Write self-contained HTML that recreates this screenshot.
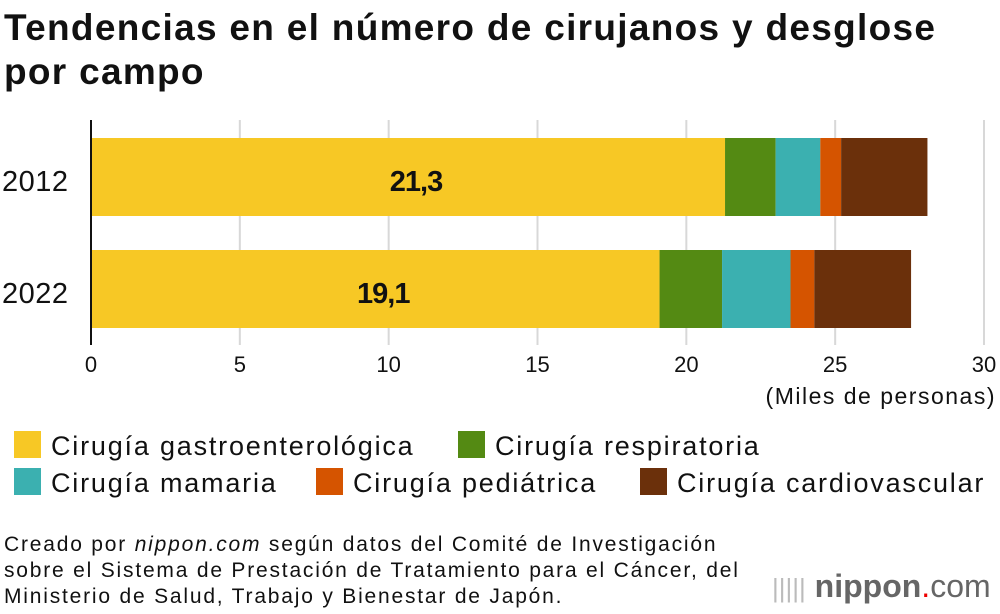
<!DOCTYPE html>
<html><head><meta charset="utf-8"><style>
body{margin:0;width:1000px;height:614px;background:#fff;font-family:"Liberation Sans",sans-serif;overflow:hidden;position:relative}
.t{position:absolute;color:#111;white-space:nowrap}
</style></head><body>
<div class="t" style="left:4px;top:6px;font-size:37px;font-weight:bold;line-height:44px;letter-spacing:1.3px">Tendencias en el número de cirujanos y desglose<br>por campo</div>
<svg id="c" width="1000" height="614" style="position:absolute;left:0;top:0"></svg>
<div class="t" style="left:4px;top:532px;font-size:21px;line-height:26px;letter-spacing:1.8px">Creado por <i>nippon.com</i> según datos del Comité de Investigación<br>sobre el Sistema de Prestación de Tratamiento para el Cáncer, del<br>Ministerio de Salud, Trabajo y Bienestar de Japón.</div>
<div class="t" style="left:772px;top:568px;font-size:32px;color:#666"><span style="color:#bbb;font-size:26px">|||||</span> <b>nippon</b><span style="color:#e00">.</span>com</div>
<script>
const years=["2012","2022"];
const gastro=[21.3,19.1];
const resp=[1.7,2.1];
const mama=[1.5,2.3];
const ped=[0.7,0.8];
const cardio=[2.9,3.25];
const ticks=[0,5,10,15,20,25,30];
const seriesNames=["Cirugía gastroenterológica","Cirugía respiratoria","Cirugía mamaria","Cirugía pediátrica","Cirugía cardiovascular"];
const colors=["#f7c825","#548a13","#3bb0b0","#d55400","#6b300b"];
const NS="http://www.w3.org/2000/svg";
const svg=document.getElementById('c');
const x=v=>91+v*(984-91)/30;
const yTop=i=>138+i*112;
function el(tag,a,txt){const e=document.createElementNS(NS,tag);for(const k in a)e.setAttribute(k,a[k]);if(txt!==undefined)e.textContent=txt;svg.appendChild(e);return e;}
ticks.forEach(t=>{
  if(t>0){const g=el('line',{x1:x(t),x2:x(t),y1:120,y2:345,stroke:'#d8d8d8','stroke-width':2});
  
  }
  const l=el('text',{x:x(t),y:372,'text-anchor':'middle','font-size':22,fill:'#111'},t);
  
  
});
const series=[gastro,resp,mama,ped,cardio];
years.forEach((yr,i)=>{
  let acc=0;
  series.forEach((s,j)=>{
    const r=el('rect',{x:x(acc),y:yTop(i),width:x(acc+s[i])-x(acc),height:78,fill:colors[j]});
    
    
    acc+=s[i];
  });
  const v=el('text',{x:x(gastro[i]/2)+8,y:yTop(i)+53,'text-anchor':'middle','font-size':29,'font-weight':'bold',fill:'#111','letter-spacing':'-1'},String(gastro[i]).replace('.',','));
  
  
  const yl=el('text',{x:2,y:yTop(i)+53,'font-size':29,fill:'#111','letter-spacing':'0.5'},yr);
  
  
});
const ax=el('line',{x1:91,x2:91,y1:120,y2:345,stroke:'#111','stroke-width':2});


const at=el('text',{x:996,y:404,'text-anchor':'end','font-size':23,fill:'#111','letter-spacing':'1.5'},'(Miles de personas)');


const lp=[[14,431],[458,431],[14,468],[316,468],[640,468]];
seriesNames.forEach((n,j)=>{
  const r=el('rect',{x:lp[j][0],y:lp[j][1],width:27,height:27,fill:colors[j]});
  
  
  const t=el('text',{x:lp[j][0]+37,y:lp[j][1]+24,'font-size':27,fill:'#111','letter-spacing':'1.8'},n);
  
  
});
</script>
</body></html>
